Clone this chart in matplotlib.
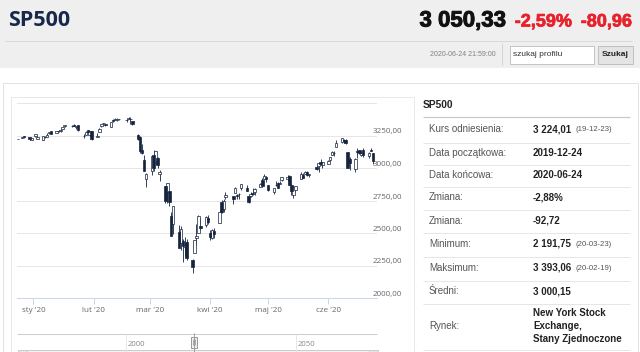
import numpy as np
import pandas as pd
import matplotlib as mpl

mpl.use("Agg")
import matplotlib.pyplot as plt
import matplotlib.dates as mdates
import matplotlib.patheffects as pe
from matplotlib.patches import Rectangle

# ---------------------------------------------------------------- data
holidays = ["2019-12-25", "2020-01-01", "2020-01-20", "2020-02-17",
            "2020-04-10", "2020-05-25"]
days = pd.bdate_range("2019-12-24", "2020-06-24")
days = days[~days.isin(pd.to_datetime(holidays))]

opens = [
    3225.45, 3227.20, 3247.23, 3240.09, 3215.18,
    3244.67, 3226.36, 3217.55, 3241.86, 3238.59, 3266.03, 3281.81, 3271.13, 3285.35, 3282.27,
    3302.97, 3323.66, 3321.03, 3330.02, 3315.77, 3333.10, 3247.16, 3255.35, 3289.46, 3256.45, 3282.33,
    3235.66, 3280.61, 3324.91, 3344.92, 3335.54, 3318.28, 3365.87, 3370.50, 3365.90, 3378.08,
    3369.04, 3380.39, 3380.45, 3360.50, 3257.61, 3238.94, 3139.90, 3062.54, 2916.90,
    2974.28, 3096.46, 3045.75, 3075.70, 2954.20, 2863.89, 2813.48, 2825.60, 2630.86, 2569.99, 2508.59,
    2425.66, 2436.50, 2393.48, 2431.94, 2290.71, 2344.44, 2457.77, 2501.29, 2555.87, 2558.98, 2614.69,
    2498.08, 2458.54, 2514.92, 2578.28, 2738.65, 2685.00, 2776.99, 2782.46, 2805.10, 2795.64, 2799.34,
    2842.43, 2845.62, 2784.81, 2787.89, 2810.42, 2812.64, 2854.65, 2909.96, 2918.46, 2930.91,
    2869.09, 2815.01, 2868.88, 2883.14, 2878.26, 2908.83, 2915.46, 2939.50, 2865.86, 2794.54,
    2829.95, 2913.86, 2948.59, 2953.63, 2969.95, 2948.05, 3004.08, 3015.65, 3046.61, 3025.17,
    3031.00, 3064.78, 3098.90, 3111.56, 3163.84, 3199.92, 3213.32, 3213.42, 3123.53, 3071.04,
    2993.76, 3131.00, 3136.13, 3101.64, 3140.29, 3094.42, 3138.70, 3114.40,
]
highs = [
    3226.43, 3240.08, 3247.93, 3240.92, 3231.72,
    3258.14, 3246.15, 3246.84, 3244.91, 3267.07, 3275.58, 3282.99, 3288.13, 3294.25, 3298.66,
    3317.11, 3329.88, 3329.79, 3337.77, 3326.88, 3333.18, 3258.85, 3285.78, 3293.47, 3285.91, 3282.33,
    3268.44, 3306.92, 3337.58, 3347.96, 3341.42, 3352.26, 3375.63, 3381.47, 3385.09, 3380.69,
    3375.01, 3393.52, 3389.15, 3360.76, 3259.81, 3246.99, 3182.51, 3097.07, 2959.72,
    3090.96, 3136.72, 3130.97, 3083.04, 2985.93, 2863.89, 2882.59, 2825.60, 2660.95, 2711.33, 2562.98,
    2553.93, 2453.57, 2466.97, 2453.01, 2300.73, 2449.71, 2571.42, 2637.01, 2615.91, 2631.80, 2641.39,
    2522.75, 2533.22, 2538.18, 2676.85, 2756.89, 2760.75, 2818.57, 2782.46, 2851.85, 2801.88, 2806.51,
    2879.22, 2868.98, 2785.54, 2815.10, 2844.90, 2842.71, 2887.72, 2921.15, 2954.86, 2930.91,
    2869.09, 2844.24, 2898.23, 2891.11, 2901.92, 2932.16, 2944.25, 2945.82, 2874.14, 2852.80,
    2865.01, 2968.09, 2964.21, 2980.29, 2978.50, 2956.76, 3021.72, 3036.25, 3068.67, 3049.17,
    3062.18, 3081.07, 3130.94, 3128.91, 3211.72, 3233.13, 3222.71, 3223.27, 3123.53, 3088.42,
    3079.76, 3153.45, 3141.16, 3120.00, 3155.53, 3120.92, 3154.90, 3115.01,
]
lows = [
    3220.51, 3227.20, 3234.37, 3216.57, 3212.03,
    3235.53, 3222.34, 3214.64, 3232.43, 3236.67, 3263.67, 3260.86, 3268.43, 3277.19, 3280.69,
    3302.82, 3318.86, 3316.61, 3320.04, 3301.87, 3281.53, 3234.50, 3253.22, 3271.89, 3242.80, 3214.68,
    3235.66, 3280.61, 3313.75, 3334.39, 3322.12, 3317.77, 3352.72, 3369.72, 3360.52, 3366.15,
    3355.61, 3378.83, 3341.02, 3328.45, 3214.65, 3118.77, 3108.99, 2977.39, 2855.84,
    2945.19, 2976.63, 3034.38, 2999.83, 2901.54, 2734.43, 2734.00, 2707.22, 2478.86, 2492.37, 2380.94,
    2367.04, 2280.52, 2319.78, 2295.56, 2191.86, 2344.44, 2407.53, 2500.72, 2520.02, 2545.28, 2571.15,
    2447.49, 2455.79, 2459.96, 2574.57, 2657.67, 2663.30, 2762.36, 2721.17, 2805.10, 2761.54, 2764.32,
    2830.88, 2820.43, 2727.10, 2775.95, 2794.26, 2791.76, 2852.89, 2860.71, 2912.16, 2892.47,
    2821.61, 2797.85, 2863.55, 2847.65, 2876.48, 2902.88, 2903.44, 2869.59, 2793.15, 2766.64,
    2816.78, 2913.86, 2922.35, 2953.63, 2938.57, 2933.59, 2988.17, 2969.75, 3023.40, 2998.61,
    3031.00, 3051.64, 3098.90, 3090.41, 3163.84, 3196.00, 3193.11, 3181.49, 2999.49, 2984.47,
    2965.66, 3076.06, 3108.03, 3093.51, 3083.11, 3079.39, 3127.12, 3032.13,
]
closes = [
    3223.38, 3239.91, 3240.02, 3221.29, 3230.78,
    3257.85, 3234.85, 3246.28, 3237.18, 3253.05, 3274.70, 3265.35, 3288.13, 3283.15, 3289.29,
    3316.81, 3329.62, 3320.79, 3321.75, 3325.54, 3295.47, 3243.63, 3276.24, 3273.40, 3283.66, 3225.52,
    3248.92, 3297.59, 3334.69, 3345.78, 3327.71, 3352.09, 3357.75, 3379.45, 3373.94, 3380.16,
    3370.29, 3386.15, 3373.23, 3337.75, 3225.89, 3128.21, 3116.39, 2978.76, 2954.22,
    3090.23, 3003.37, 3130.12, 3023.94, 2972.37, 2746.56, 2882.23, 2741.38, 2480.64, 2711.02, 2386.13,
    2529.19, 2398.10, 2409.39, 2304.92, 2237.40, 2447.33, 2475.56, 2630.07, 2541.47, 2626.65, 2584.59,
    2470.50, 2526.90, 2488.65, 2663.68, 2659.41, 2749.98, 2789.82, 2761.63, 2846.06, 2783.36, 2799.55,
    2874.56, 2823.16, 2736.56, 2799.31, 2797.80, 2836.74, 2878.48, 2863.39, 2939.51, 2912.43,
    2830.71, 2842.74, 2868.44, 2848.42, 2881.19, 2929.80, 2930.32, 2870.12, 2820.00, 2852.50,
    2863.70, 2953.91, 2922.94, 2971.61, 2948.51, 2955.45, 2991.77, 3036.13, 3029.73, 3044.31,
    3055.73, 3080.82, 3122.87, 3112.35, 3193.93, 3232.39, 3207.18, 3190.14, 3002.10, 3041.31,
    3066.59, 3124.74, 3113.49, 3115.34, 3097.74, 3117.86, 3131.29, 3050.33,
]

ytick_values = [2000, 2250, 2500, 2750, 3000, 3250, 3500]
ytick_labels = ["2000,00", "2250,00", "2500,00", "2750,00", "3000,00", "3250,00", ""]
month_ticks = ["2020-01-01", "2020-02-01", "2020-03-01", "2020-04-01", "2020-05-01", "2020-06-01"]
month_labels = ["sty '20", "lut '20", "mar '20", "kwi '20", "maj '20", "cze '20"]
nav_labels = ["2000", "2050"]

info_labels = ["Kurs odniesienia:", "Data początkowa:", "Data końcowa:", "Zmiana:", "Zmiana:",
               "Minimum:", "Maksimum:", "Średni:", "Rynek:"]
info_values = ["3 224,01", "2019-12-24", "2020-06-24", "-2,88%", "-92,72",
               "2 191,75", "3 393,06", "3 000,15", "New York Stock\nExchange,\nStany Zjednoczone"]
info_notes = ["(19-12-23)", "", "", "", "", "(20-03-23)", "(20-02-19)", "", ""]

# ---------------------------------------------------------------- page
W, H = 640, 352
DARK = "#15233d"
fig = plt.figure(figsize=(6.4, 3.52), dpi=100, facecolor="white")
page = fig.add_axes([0, 0, 1, 1])
page.set_xlim(0, W)
page.set_ylim(H, 0)
page.axis("off")

PX = 0.72  # one pixel in points


def hline(x0, x1, y, color, lw=1):
    page.plot([x0, x1], [y, y], color=color, lw=lw * PX, solid_capstyle="butt")


def vline(x, y0, y1, color, lw=1):
    page.plot([x, x], [y0, y1], color=color, lw=lw * PX, solid_capstyle="butt")


def heavy(color, w=0.7):
    # thicken the big header numbers a little, they are drawn very heavy on the page
    return [pe.withStroke(linewidth=w, foreground=color)]


# header band
page.add_patch(Rectangle((0, 0), W, 68, facecolor="#efefef", edgecolor="none"))
hline(5, 632, 40.5, "#d9d9d9")
page.text(8, 21, "SP500", fontsize=15.5, color="#17284a", fontweight="bold",
          family=["Open Sans", "DejaVu Sans"], va="center", ha="left")
page.text(506, 21, "3 050,33", fontsize=16, color="#111111", fontweight="bold",
          family="Liberation Sans", va="center", ha="right", path_effects=heavy("#111111"))
page.text(572, 22, "-2,59%", fontsize=13, color="#e8222c", fontweight="bold",
          family="Liberation Sans", va="center", ha="right", path_effects=heavy("#e8222c", 0.5))
page.text(632, 22, "-80,96", fontsize=13, color="#e8222c", fontweight="bold",
          family="Liberation Sans", va="center", ha="right", path_effects=heavy("#e8222c", 0.5))

page.text(496, 54, "2020-06-24 21:59:00", fontsize=5, color="#808080",
          family="Liberation Sans", va="center", ha="right")
vline(501.5, 43, 65, "#d4d4d4")
page.add_patch(Rectangle((509.5, 45.5), 84, 18, facecolor="white", edgecolor="#c4c4c4", lw=PX))
page.text(513, 54.5, "szukaj profilu", fontsize=6, color="#333333",
          family="Liberation Sans", va="center", ha="left")
page.add_patch(Rectangle((597.5, 45.5), 35, 18, facecolor="#e4e4e4", edgecolor="#c0c0c0", lw=PX))
page.text(615, 54.5, "Szukaj", fontsize=6, color="#222222", fontweight="bold",
          family="Liberation Sans", va="center", ha="center")

# panel frames
page.add_patch(Rectangle((2.5, 82.5), 635, 300, facecolor="white", edgecolor="#e2e2e2", lw=PX))
page.add_patch(Rectangle((10.5, 96.5), 403, 300, facecolor="white", edgecolor="#e8e8e8", lw=PX))

# info table
page.text(423, 105, "SP500", fontsize=7.4, color="#222222", fontweight="bold",
          family="Liberation Sans", va="center", ha="left")
hline(423, 630, 116.5, "#c8c8c8", lw=1.2)
row_y = [129, 153, 175, 197.5, 220.5, 244, 268, 291.5, 326]
row_sep = [142, 164, 186, 209, 232, 256, 280, 303, 349]
for lab, val, note, y, s in zip(info_labels, info_values, info_notes, row_y, row_sep):
    page.text(429, y, lab, fontsize=7, color="#555555", family="Liberation Sans",
              va="center", ha="left")
    page.text(533, y, val, fontsize=7, color="#222222", fontweight="bold",
              family="Liberation Sans", va="center", ha="left", linespacing=1.35)
    if note:
        page.text(576, y + 0.5, note, fontsize=5.6, color="#555555",
                  family="Liberation Sans", va="center", ha="left")
    hline(423, 630, s + 0.5, "#e6e6e6")

# navigator below the chart
hline(17, 377, 333.5, "#cccccc")
vline(125.5, 334, 352, "#e6e6e6")
vline(295.5, 334, 352, "#e6e6e6")
for lab, xp in zip(nav_labels, [128, 298]):
    page.text(xp, 345, lab, fontsize=5.6, color="#888888", family=["Open Sans", "DejaVu Sans"],
              va="center", ha="left")
vline(193.5, 333, 352, "#a0a0a0")
page.add_patch(Rectangle((190.5, 336.5), 6, 11, facecolor="#f2f2f2", edgecolor="#9a9a9a", lw=PX))
vline(192.5, 339, 345, "#9a9a9a", lw=0.8)
vline(194.5, 339, 345, "#9a9a9a", lw=0.8)
page.add_patch(Rectangle((17.5, 349.5), 360, 8, facecolor="#f2f2f2", edgecolor="#cccccc", lw=PX))
page.add_patch(Rectangle((17.5, 349.5), 9, 8, facecolor="#e6e6e6", edgecolor="#cccccc", lw=PX))
page.add_patch(Rectangle((368.5, 349.5), 9, 8, facecolor="#e6e6e6", edgecolor="#cccccc", lw=PX))

# ---------------------------------------------------------------- chart
ax = fig.add_axes([17 / W, (H - 298) / H, 360 / W, 195 / H])
ax.set_facecolor("none")

x = mdates.date2num(days.to_pydatetime())
o = np.array(opens)
h = np.array(highs)
l = np.array(lows)
c = np.array(closes)
up = c >= o

ax.vlines(x, l, h, color=DARK, lw=0.6, zorder=2)
ax.bar(x[up], np.maximum(c[up] - o[up], 1.5), bottom=o[up], width=1.3,
       facecolor="white", edgecolor=DARK, lw=0.5, zorder=3)
ax.bar(x[~up], np.maximum(o[~up] - c[~up], 1.5), bottom=c[~up], width=1.3,
       facecolor=DARK, edgecolor=DARK, lw=0.5, zorder=3)

ax.set_xlim(mdates.date2num(pd.Timestamp("2019-12-23 12:00")),
            mdates.date2num(pd.Timestamp("2020-06-26 03:00")))
ax.set_ylim(2000, 3500)

ax.set_yticks(ytick_values)
ax.set_yticklabels(ytick_labels)
ax.yaxis.tick_right()
ax.tick_params(axis="y", length=0, pad=-3, labelsize=5.8, labelcolor="#666666")
for lbl in ax.get_yticklabels():
    lbl.set_verticalalignment("bottom")
    lbl.set_family(["Open Sans", "DejaVu Sans"])

ax.set_xticks(mdates.date2num(pd.to_datetime(month_ticks).to_pydatetime()))
ax.set_xticklabels(month_labels)
ax.tick_params(axis="x", length=4.3, width=0.72, color="#ccd6eb", pad=2,
               labelsize=5.8, labelcolor="#666666")
for lbl in ax.get_xticklabels():
    lbl.set_family(["Open Sans", "DejaVu Sans"])

ax.grid(axis="y", color="#e6e6e6", lw=0.72)
ax.set_axisbelow(True)
for side in ["top", "left", "right"]:
    ax.spines[side].set_visible(False)
ax.spines["bottom"].set_color("#ccd6eb")
ax.spines["bottom"].set_linewidth(0.72)

fig.savefig("out.png", dpi=100)
